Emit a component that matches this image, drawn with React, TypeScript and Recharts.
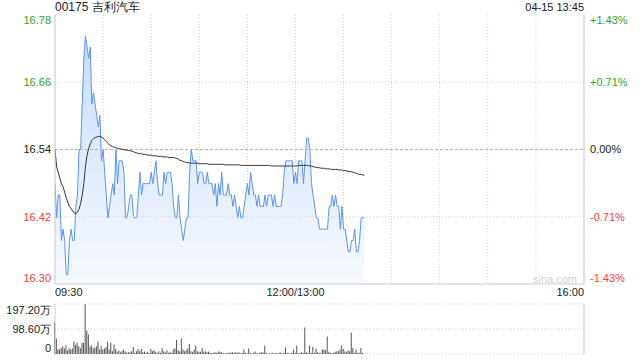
import React from 'react';
import { ComposedChart, Area, Line, Bar, XAxis, YAxis, CartesianGrid, ReferenceLine } from 'recharts';

// ---- data ----
const stockTitle = '00175 吉利汽车';
const stampText = '04-15 13:45';

const priceTicks = [16.3035, 16.4217, 16.54, 16.6583, 16.7765];
const priceTickLabels = ['16.30', '16.42', '16.54', '16.66', '16.78'];
const pctTickLabels = ['-1.43%', '-0.71%', '0.00%', '+0.71%', '+1.43%'];
const prevClose = 16.54;

const timeTicks = [0, 30, 60, 90, 120, 150, 180, 210, 240, 270, 300, 330];
const timeTickLabels: Record<number, string> = { 0: '09:30', 150: '12:00/13:00', 330: '16:00' };

const prices = [
  16.48, 16.42, 16.46, 16.46, 16.38, 16.40, 16.38, 16.32, 16.32, 16.38,
  16.40, 16.38, 16.38, 16.44, 16.46, 16.54, 16.54, 16.62, 16.70, 16.74,
  16.72, 16.70, 16.72, 16.62, 16.64, 16.62, 16.60, 16.58, 16.60, 16.52,
  16.54, 16.50, 16.46, 16.42, 16.44, 16.46, 16.48, 16.46, 16.54, 16.48,
  16.52, 16.52, 16.52, 16.50, 16.42, 16.42, 16.44, 16.46, 16.46, 16.42,
  16.42, 16.42, 16.46, 16.50, 16.46, 16.48, 16.48, 16.48, 16.48, 16.48,
  16.50, 16.48, 16.50, 16.52, 16.48, 16.46, 16.46, 16.46, 16.50, 16.48,
  16.50, 16.50, 16.50, 16.48, 16.44, 16.42, 16.42, 16.46, 16.42, 16.40,
  16.38, 16.40, 16.42, 16.42, 16.50, 16.54, 16.52, 16.52, 16.52, 16.48,
  16.50, 16.50, 16.50, 16.48, 16.48, 16.50, 16.48, 16.48,
  16.48, 16.46, 16.48, 16.44, 16.48, 16.46, 16.50, 16.46, 16.46, 16.46,
  16.48, 16.46, 16.46, 16.44, 16.46, 16.44, 16.42, 16.44, 16.42, 16.42,
  16.44, 16.46, 16.48, 16.46, 16.50, 16.48, 16.46, 16.46, 16.44, 16.46,
  16.44, 16.44, 16.44, 16.46, 16.44, 16.46, 16.46, 16.46, 16.44, 16.46,
  16.44, 16.44, 16.44, 16.44, 16.46, 16.50, 16.52, 16.52, 16.52, 16.52,
  16.52, 16.48, 16.50, 16.48, 16.52, 16.52, 16.52, 16.48, 16.52, 16.56,
  16.56, 16.54, 16.48, 16.46, 16.44, 16.42, 16.42, 16.40, 16.40, 16.40,
  16.40, 16.40, 16.40, 16.44, 16.44, 16.46, 16.44, 16.46, 16.44, 16.44,
  16.40, 16.44, 16.40, 16.40, 16.38, 16.36, 16.36, 16.38, 16.38, 16.40,
  16.36, 16.36, 16.38, 16.42, 16.42, 16.42,
];

const avgPrices = [
  16.54, 16.51, 16.50, 16.49, 16.48, 16.475, 16.465, 16.455, 16.447, 16.44,
  16.436, 16.432, 16.428, 16.427, 16.43, 16.435, 16.445, 16.46, 16.48, 16.51,
  16.53, 16.542, 16.55, 16.556, 16.559, 16.561, 16.562, 16.563, 16.563, 16.562,
  16.56, 16.557, 16.554, 16.551, 16.548, 16.546, 16.545, 16.544, 16.543, 16.542,
  16.541, 16.541, 16.54, 16.54, 16.539, 16.539, 16.538, 16.538, 16.537, 16.536,
  16.535, 16.534, 16.533, 16.533, 16.532, 16.532, 16.531, 16.531, 16.53, 16.53,
  16.53, 16.529, 16.529, 16.529, 16.528, 16.528, 16.528, 16.527, 16.527, 16.527,
  16.527, 16.526, 16.526, 16.526, 16.526, 16.525, 16.524, 16.523, 16.521, 16.52,
  16.519, 16.518, 16.517, 16.517, 16.516, 16.516, 16.516, 16.516, 16.516, 16.516,
  16.515, 16.515, 16.515, 16.515, 16.515, 16.515, 16.514, 16.514, 16.514, 16.514,
  16.514, 16.514, 16.514, 16.514, 16.514, 16.514, 16.513, 16.513, 16.513, 16.513,
  16.513, 16.513, 16.513, 16.513, 16.513, 16.513, 16.512, 16.512, 16.512, 16.512,
  16.512, 16.512, 16.512, 16.512, 16.512, 16.512, 16.512, 16.512, 16.512, 16.512,
  16.512, 16.512, 16.512, 16.512, 16.512, 16.511, 16.511, 16.511, 16.511, 16.511,
  16.511, 16.511, 16.511, 16.511, 16.511, 16.511, 16.511, 16.511, 16.511, 16.511,
  16.511, 16.511, 16.512, 16.512, 16.512, 16.512, 16.512, 16.512, 16.512, 16.511,
  16.511, 16.51, 16.509, 16.509, 16.508, 16.508, 16.507, 16.507, 16.507, 16.506,
  16.506, 16.506, 16.505, 16.505, 16.505, 16.505, 16.505, 16.504, 16.504, 16.504,
  16.503, 16.503, 16.502, 16.502, 16.501, 16.501, 16.5, 16.499, 16.498, 16.497,
  16.496, 16.496, 16.495, 16.495,
];

// volume in 万股
const volumes = [
  125, 61, 20, 18, 24, 31, 22, 34, 14, 23,
  18, 22, 49, 36, 44, 31, 23, 43, 44, 197,
  93, 77, 30, 34, 23, 26, 31, 49, 18, 31,
  18, 22, 28, 48, 18, 45, 11, 37, 20, 9,
  14, 7, 12, 18, 10, 6, 7, 7, 11, 28, 5,
  11, 20, 11, 20, 7, 10, 5, 9, 3, 20,
  11, 15, 9, 5, 11, 5, 24, 11, 7, 15, 5,
  9, 5, 18, 23, 55, 15, 10, 61, 18, 11,
  15, 22, 39, 11, 9, 18, 34, 11, 9, 9, 24,
  9, 11, 7, 10,
  5, 3, 5, 7, 5, 10, 9, 7, 5, 2,
  3, 5, 5, 6, 7, 5, 7, 5, 7, 3,
  5, 18, 5, 2, 22, 5, 2, 5, 10, 3,
  2, 5, 7, 6, 34, 5, 2, 3, 2, 5,
  1, 5, 2, 5, 6, 3, 5, 26, 5, 2,
  2, 5, 18, 5, 34, 3, 5, 7, 5, 105,
  7, 5, 34, 5, 28, 5, 22, 7, 5, 5,
  18, 18, 15, 69, 9, 5, 3, 5, 9, 11,
  11, 18, 34, 20, 11, 7, 14, 11, 85, 24,
  5, 18, 5, 5, 24, 5,
];
const volTicks = [0, 98.6, 197.2];
const volTickLabels = ['0', '98.60万', '197.20万'];

// ---- styling ----
const GREEN = '#2ea52e';
const RED = '#f43c3c';
const DARK = '#222';
const FONT = '"Liberation Sans", Arial, sans-serif';

const priceData = prices.map((p, i) => ({ t: i, p, a: avgPrices[i] }));
const volData = volumes.map((v, i) => ({ t: i, v }));

const colorFor = (v: number) => (v > prevClose + 0.005 ? GREEN : v < prevClose - 0.005 ? RED : DARK);
const clampDy = (idx: number, n: number) => (idx === n - 1 ? 5 : idx === 0 ? -6 : 0);

const LeftPriceTick = (props: any) => {
  const { x, y, payload } = props;
  const idx = priceTicks.indexOf(payload.value);
  return (
    <text x={x} y={y + clampDy(idx, priceTicks.length)} dy="0.36em" textAnchor="end" fontSize={11} fill={colorFor(payload.value)} fontFamily={FONT}>
      {priceTickLabels[idx]}
    </text>
  );
};

const RightPctTick = (props: any) => {
  const { x, y, payload } = props;
  const idx = priceTicks.indexOf(payload.value);
  return (
    <text x={x} y={y + clampDy(idx, priceTicks.length)} dy="0.36em" textAnchor="start" fontSize={11} fill={colorFor(payload.value)} fontFamily={FONT}>
      {pctTickLabels[idx]}
    </text>
  );
};

const TimeTick = (props: any) => {
  const { x, y, payload } = props;
  const label = timeTickLabels[payload.value];
  if (!label) return <g />;
  const anchor = payload.value === 0 ? 'start' : payload.value === 330 ? 'end' : 'middle';
  return (
    <text x={x} y={y} dy="0.71em" textAnchor={anchor} fontSize={11} fill={DARK} fontFamily={FONT}>
      {label}
    </text>
  );
};

const VolTick = (props: any) => {
  const { x, y, payload } = props;
  const idx = volTicks.indexOf(payload.value);
  const dy = idx === 2 ? 6.5 : idx === 0 ? -5.5 : 0;
  return (
    <text x={x} y={y + dy} dy="0.36em" textAnchor="end" fontSize={11} fill={DARK} fontFamily={FONT}>
      {volTickLabels[idx]}
    </text>
  );
};

export default function App() {
  return (
    <div style={{ position: 'absolute', left: 0, top: 0, width: 640, height: 360, background: '#fff', fontFamily: FONT, overflow: 'hidden' }}>
      <div style={{ position: 'absolute', left: 55, top: 0, fontSize: 12, lineHeight: '15px', color: DARK }}>{stockTitle}</div>
      <div style={{ position: 'absolute', right: 56, top: 0, fontSize: 11, lineHeight: '15px', color: DARK }}>{stampText}</div>

      <div style={{ position: 'absolute', left: 0, top: 0 }}>
        <ComposedChart width={640} height={300} data={priceData} margin={{ top: 15, right: 0, bottom: 0, left: 0 }}>
          <defs>
            <linearGradient id="pfill" x1="0" y1="0" x2="0" y2="1">
              <stop offset="0%" stopColor="#c9dcf8" stopOpacity={1} />
              <stop offset="100%" stopColor="#f7faff" stopOpacity={1} />
            </linearGradient>
          </defs>
          <CartesianGrid horizontal={false} vertical={true} stroke="#cfcfcf" strokeDasharray="1 2" yAxisId="p" />
          <XAxis
            dataKey="t"
            type="number"
            domain={[0, 330]}
            ticks={timeTicks}
            interval={0}
            height={16}
            tick={<TimeTick />}
            tickLine={false}
            tickSize={0}
            tickMargin={4}
            axisLine={{ stroke: '#cccccc' }}
            allowDataOverflow
          />
          <YAxis
            yAxisId="p"
            orientation="left"
            width={55}
            domain={[priceTicks[0], priceTicks[4]]}
            ticks={priceTicks}
            interval={0}
            tick={<LeftPriceTick />}
            tickLine={false}
            tickSize={0}
            tickMargin={4}
            axisLine={{ stroke: '#cccccc' }}
            allowDataOverflow
          />
          <YAxis
            yAxisId="pct"
            orientation="right"
            width={56}
            domain={[priceTicks[0], priceTicks[4]]}
            ticks={priceTicks}
            interval={0}
            tick={<RightPctTick />}
            tickLine={false}
            tickSize={0}
            tickMargin={6}
            axisLine={{ stroke: '#cccccc' }}
            allowDataOverflow
          />
          <ReferenceLine yAxisId="p" y={priceTicks[1]} stroke="#cfcfcf" strokeDasharray="1 2" />
          <ReferenceLine yAxisId="p" y={priceTicks[3]} stroke="#cfcfcf" strokeDasharray="1 2" />
          <ReferenceLine yAxisId="p" y={prevClose} stroke="#b5b5b5" strokeDasharray="3 2" />
          <Area
            yAxisId="p"
            type="linear"
            dataKey="p"
            stroke="#5b95f0"
            strokeWidth={1}
            fill="url(#pfill)"
            fillOpacity={1}
            dot={false}
            activeDot={false}
            isAnimationActive={false}
            baseValue="dataMin"
          />
          <Line
            yAxisId="p"
            type="linear"
            dataKey="a"
            stroke="#333333"
            strokeWidth={1}
            dot={false}
            activeDot={false}
            isAnimationActive={false}
          />
        </ComposedChart>
      </div>

      <div style={{ position: 'absolute', left: 533, top: 272, fontSize: 11, color: '#cfcfcf', lineHeight: '14px' }}>sina.com</div>

      <div style={{ position: 'absolute', left: 0, top: 300 }}>
        <ComposedChart width={640} height={60} data={volData} margin={{ top: 4, right: 0, bottom: 6, left: 0 }}>
          <CartesianGrid horizontal={true} vertical={false} stroke="#cfcfcf" strokeDasharray="1 2" />
          <XAxis dataKey="t" type="number" domain={[0, 330]} hide height={0} />
          <YAxis
            width={55}
            domain={[0, 197.2]}
            ticks={volTicks}
            interval={0}
            tick={<VolTick />}
            tickLine={false}
            tickSize={0}
            tickMargin={4}
            axisLine={{ stroke: '#cccccc' }}
            allowDataOverflow
          />
          <YAxis yAxisId="r" orientation="right" width={56} tick={false} tickLine={false} axisLine={{ stroke: '#cccccc' }} />
          <Bar dataKey="v" fill="#555555" barSize={1} isAnimationActive={false} />
        </ComposedChart>
      </div>
    </div>
  );
}
